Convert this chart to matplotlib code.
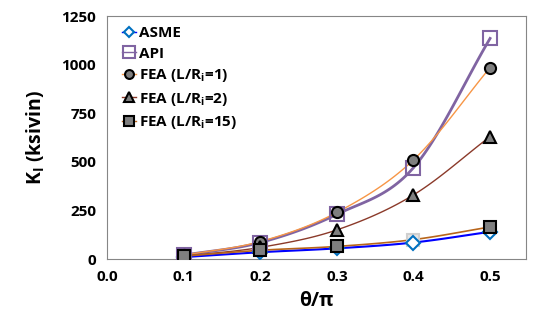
import numpy as np
import matplotlib
matplotlib.use("Agg")
import matplotlib.pyplot as plt
from matplotlib.lines import Line2D

theta = [0.1, 0.2, 0.3, 0.4, 0.5]
asme = [10, 35, 55, 85, 140]
api = [20, 85, 230, 470, 1135]
fea1 = [20, 90, 240, 510, 985]
fea2 = [15, 60, 150, 330, 630]
fea15 = [15, 45, 65, 100, 165]
labels = ['ASME', 'API', 'FEA (L/R$_\\mathregular{i}$=1)',
          'FEA (L/R$_\\mathregular{i}$=2)', 'FEA (L/R$_\\mathregular{i}$=15)']


def smooth(x, y, n=30):
    # catmull-rom curve like excel's smoothed line
    x = np.asarray(x, float)
    y = np.asarray(y, float)
    px = np.concatenate([[2 * x[0] - x[1]], x, [2 * x[-1] - x[-2]]])
    py = np.concatenate([[2 * y[0] - y[1]], y, [2 * y[-1] - y[-2]]])
    xs, ys = [], []
    t = np.linspace(0, 1, n)
    for i in range(1, len(px) - 2):
        for p, out in ((px, xs), (py, ys)):
            p0, p1, p2, p3 = p[i - 1], p[i], p[i + 1], p[i + 2]
            out.extend(0.5 * (2 * p1 + (-p0 + p2) * t
                              + (2 * p0 - 5 * p1 + 4 * p2 - p3) * t ** 2
                              + (-p0 + 3 * p1 - 3 * p2 + p3) * t ** 3))
    return xs, ys


plt.rcParams['font.family'] = ['Open Sans', 'DejaVu Sans']
plt.rcParams['font.weight'] = 'bold'

fig = plt.figure(figsize=(5.33, 3.21), dpi=100)
ax = fig.add_axes([0.201, 0.193, 0.786, 0.757])

line_cols = ['#0000FF', '#8064A2', '#F79646', '#8B3A2A', '#B8651B']
line_w = [1.5, 2, 1, 1, 1.2]
styles = [dict(marker='D', ms=7, mfc='white', mec='#0070C0', mew=1.5),
          dict(marker='s', ms=10, mfc='none', mec='#8064A2', mew=1.5),
          dict(marker='o', ms=8, mfc='#7F7F7F', mec='black', mew=1.5),
          dict(marker='^', ms=9, mfc='#7F7F7F', mec='black', mew=1.5),
          dict(marker='s', ms=9, mfc='#7F7F7F', mec='black', mew=1.5)]
series = [asme, api, fea1, fea2, fea15]

for ys, c, w in zip(series, line_cols, line_w):
    ax.plot(*smooth(theta, ys), color=c, lw=w, zorder=2)

handles = []
for k, (ys, c, w, st) in enumerate(zip(series, line_cols, line_w, styles)):
    z = 3 if k < 2 else 4
    if k == 4:
        # the 0.4 point of L/Ri=15 is drawn faded in the original
        idx = [0, 1, 2, 4]
        ax.plot([theta[i] for i in idx], [ys[i] for i in idx], ls='none', zorder=z, **st)
        ax.plot([theta[3]], [ys[3]], ls='none', marker='s', ms=9, mfc='#E6E6E6',
                mec='#D0D0D0', mew=1.5, zorder=2.5)
    else:
        ax.plot(theta, ys, ls='none', zorder=z, **st)
    hs = dict(st)
    hs['ms'] = st['ms'] * 0.8
    handles.append(Line2D([], [], color=c, lw=1, **hs))

ax.set_xlim(0, 0.547)
ax.set_ylim(0, 1250)
ax.set_xticks([0.0, 0.1, 0.2, 0.3, 0.4, 0.5])
ax.set_xticklabels(['0.0', '0.1', '0.2', '0.3', '0.4', '0.5'])
ax.set_yticks([0, 250, 500, 750, 1000, 1250])
ax.tick_params(length=0, labelsize=11, pad=8)
for lab in ax.get_xticklabels() + ax.get_yticklabels():
    lab.set_fontweight('bold')
for s in ax.spines.values():
    s.set_color('#868686')

ax.set_xlabel('θ/π', fontsize=14, fontweight='bold', labelpad=5)
ax.set_ylabel('K$_\\mathregular{I}$ (ksivin)', fontsize=14, fontweight='bold', labelpad=10)

ax.legend(handles, labels, loc='upper left', bbox_to_anchor=(0.035, 0.958),
          frameon=False, handlelength=0.9, handletextpad=0.25, labelspacing=0.42,
          borderaxespad=0, borderpad=0, prop={'weight': 'bold', 'size': 11})

fig.savefig('out.png', dpi=100)
